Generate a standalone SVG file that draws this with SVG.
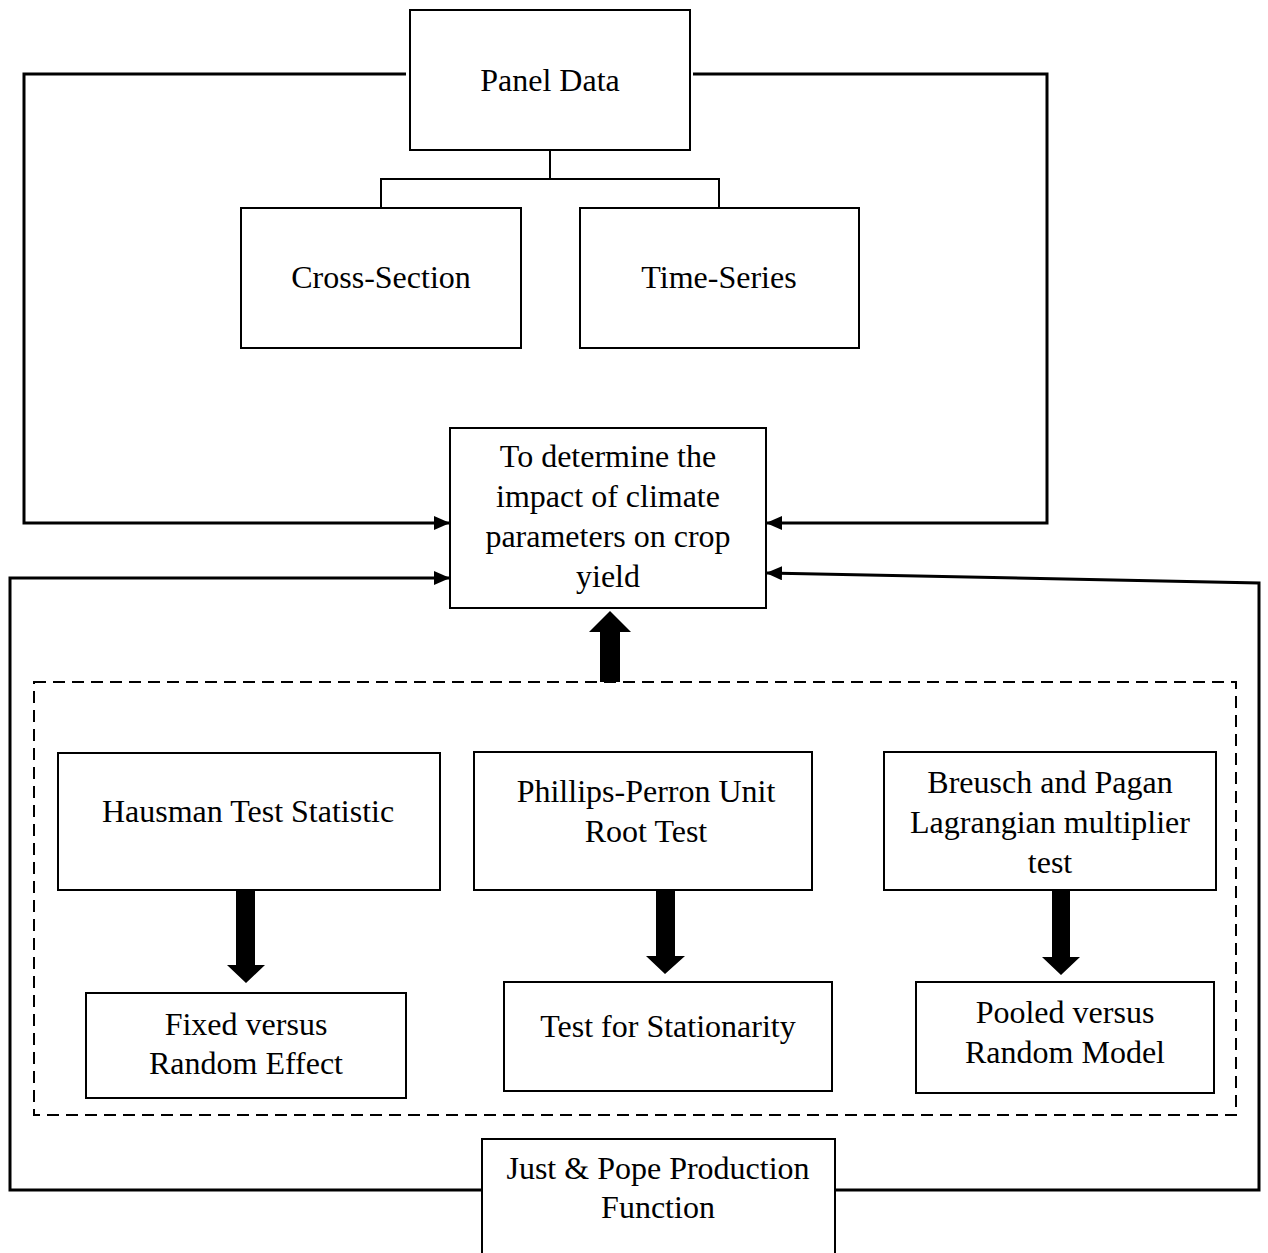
<svg xmlns="http://www.w3.org/2000/svg" width="1268" height="1253" viewBox="0 0 1268 1253">
<style>
.box{fill:#fff;stroke:#000;stroke-width:2}
.t{font-family:"Liberation Serif","Times New Roman",serif;font-size:32px;fill:#000;text-anchor:middle}
.c{fill:none;stroke:#000;stroke-width:3}
.thin{fill:none;stroke:#000;stroke-width:2}
.dash{fill:none;stroke:#000;stroke-width:2;stroke-dasharray:12 7}
</style>
<defs>
<marker id="ah" markerWidth="16" markerHeight="14" refX="15" refY="7" orient="auto" markerUnits="userSpaceOnUse">
<path d="M0,0 L16,7 L0,14 Z" fill="#000"/>
</marker>
</defs>
<rect width="1268" height="1253" fill="#fff"/>
<g id="connectors">
<path class="thin" d="M550,150 V179 M381,208 V179 H719 V208"/>
<path class="c" d="M406,74 H24 V523 H449" marker-end="url(#ah)"/>
<path class="c" d="M693,74 H1047 V523 H767" marker-end="url(#ah)"/>
<path class="c" d="M482,1190 H10 V578 H449" marker-end="url(#ah)"/>
<path class="c" d="M835,1190 H1259 V583 L767,573" marker-end="url(#ah)"/>
<rect class="dash" x="34" y="682" width="1202" height="433"/>
<path d="M600,682 V632 H589 L610,611 L631,632 H620 V682 Z" fill="#000"/>
<path d="M236,890 V965 H227 L246,983 L265,965 H255 V890 Z" fill="#000"/>
<path d="M656,890 V956 H646 L665,974 L685,956 H675 V890 Z" fill="#000"/>
<path d="M1052,890 V957 H1042 L1061,975 L1080,957 H1070 V890 Z" fill="#000"/>
</g>
<g id="panel"><rect class="box" x="410" y="10" width="280" height="140"/><text class="t" x="550" y="91">Panel Data</text></g>
<g id="cross"><rect class="box" x="241" y="208" width="280" height="140"/><text class="t" x="381" y="288">Cross-Section</text></g>
<g id="time"><rect class="box" x="580" y="208" width="279" height="140"/><text class="t" x="719" y="288">Time-Series</text></g>
<g id="impact"><rect class="box" x="450" y="428" width="316" height="180"/>
<text class="t" x="608" y="467">To determine the</text>
<text class="t" x="608" y="507">impact of climate</text>
<text class="t" x="608" y="547">parameters on crop</text>
<text class="t" x="608" y="587">yield</text></g>
<g id="hausman"><rect class="box" x="58" y="753" width="382" height="137"/><text class="t" x="248" y="822">Hausman Test Statistic</text></g>
<g id="phillips"><rect class="box" x="474" y="752" width="338" height="138"/><text class="t" x="646" y="802">Phillips-Perron Unit</text><text class="t" x="646" y="842">Root Test</text></g>
<g id="breusch"><rect class="box" x="884" y="752" width="332" height="138"/><text class="t" x="1050" y="793">Breusch and Pagan</text><text class="t" x="1050" y="833">Lagrangian multiplier</text><text class="t" x="1050" y="873">test</text></g>
<g id="fixed"><rect class="box" x="86" y="993" width="320" height="105"/><text class="t" x="246" y="1035">Fixed versus</text><text class="t" x="246" y="1074">Random Effect</text></g>
<g id="stationarity"><rect class="box" x="504" y="982" width="328" height="109"/><text class="t" x="668" y="1037">Test for Stationarity</text></g>
<g id="pooled"><rect class="box" x="916" y="982" width="298" height="111"/><text class="t" x="1065" y="1023">Pooled versus</text><text class="t" x="1065" y="1063">Random Model</text></g>
<g id="justpope"><rect class="box" x="482" y="1139" width="353" height="130"/><text class="t" x="658" y="1179">Just &amp; Pope Production</text><text class="t" x="658" y="1218">Function</text></g>
</svg>
